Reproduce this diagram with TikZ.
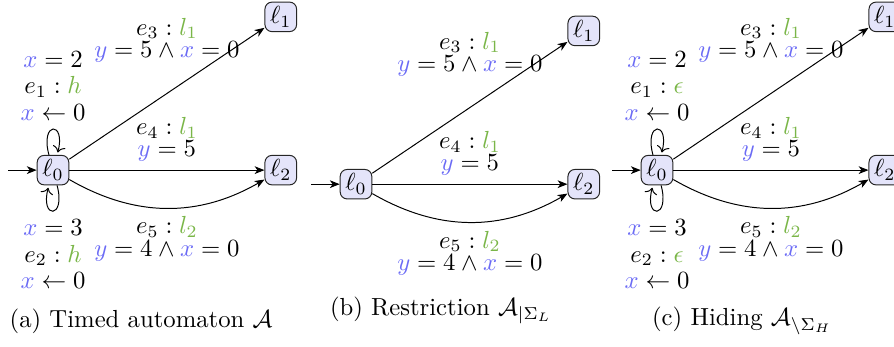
\documentclass[tikz,border=0pt]{standalone}
\usepackage{amsmath,amssymb}
\usepackage{xcolor}
\usetikzlibrary{positioning,arrows.meta}
\definecolor{varblue}{HTML}{6B6BF5}
\definecolor{actgreen}{HTML}{7AB648}
\definecolor{locfill}{HTML}{E4E4FA}
\newcommand{\cv}[1]{\textcolor{varblue}{#1}}
\newcommand{\ca}[1]{\textcolor{actgreen}{#1}}

\begin{document}
\begin{tikzpicture}[
    on grid,
    loc/.style={draw=black!85, fill=locfill, rounded corners=1mm, minimum width=0.45cm, minimum height=0.42cm, inner sep=1pt},
    arr/.style={-{Stealth[length=1.4mm, width=1.1mm, inset=0.4mm]}, draw=black},
    lbl/.style={align=center},
    subcap/.style={anchor=base}
]
    \useasboundingbox (0,0) rectangle (12.717,-4.922);

    % (a) timed automaton
    \node[loc] (a0) at (0.754,-2.42) {$\ell_0$};
    \node[loc, right=3.24cm of a0] (a2) {$\ell_2$};
    \node[loc, above=2.18cm of a2] (a1) {$\ell_1$};
    \coordinate[left=0.64cm of a0] (ain);

    \draw[arr] (ain) -- (a0);
    \draw[arr] (a0) -- (a1) node[midway, above=3.2mm, lbl] {$e_3 : \ca{l_1}$\\[-3pt]$\cv{y} = 5 \land \cv{x} = 0$};
    \draw[arr] (a0) -- (a2) node[midway, above, lbl] {$e_4 : \ca{l_1}$\\[-3pt]$\cv{y} = 5$};
    \draw[arr] (a0) to[bend right=30] node[midway, below, lbl] {$e_5 : \ca{l_2}$\\[-3pt]$\cv{y} = 4 \land \cv{x} = 0$} (a2);
    \path (a0) edge[arr, loop above] node[above, lbl] {$\cv{x} = 2$\\[-1.2pt]$e_1 : \ca{h}$\\[-1.2pt]$\cv{x} \leftarrow 0$} ();
    \path (a0) edge[arr, loop below] node[below, lbl] {$\cv{x} = 3$\\[-1.2pt]$e_2 : \ca{h}$\\[-1.2pt]$\cv{x} \leftarrow 0$} ();
    \node[subcap] (capa) at (2.006,-4.652) {(a) Timed automaton $\mathcal{A}$};

    % (b) restriction
    \node[loc] (b0) at (5.064,-2.62) {$\ell_0$};
    \node[loc, right=3.24cm of b0] (b2) {$\ell_2$};
    \node[loc, above=2.18cm of b2] (b1) {$\ell_1$};
    \coordinate[left=0.64cm of b0] (bin);

    \draw[arr] (bin) -- (b0);
    \draw[arr] (b0) -- (b1) node[midway, above=3.2mm, lbl] {$e_3 : \ca{l_1}$\\[-3pt]$\cv{y} = 5 \land \cv{x} = 0$};
    \draw[arr] (b0) -- (b2) node[midway, above, lbl] {$e_4 : \ca{l_1}$\\[-3pt]$\cv{y} = 5$};
    \draw[arr] (b0) to[bend right=30] node[midway, below, lbl] {$e_5 : \ca{l_2}$\\[-3pt]$\cv{y} = 4 \land \cv{x} = 0$} (b2);
    \node[subcap] (capb) at (6.273,-4.481) {(b) Restriction $\mathcal{A}_{|\Sigma_L}$};

    % (c) hiding
    \node[loc] (c0) at (9.346,-2.42) {$\ell_0$};
    \node[loc, right=3.24cm of c0] (c2) {$\ell_2$};
    \node[loc, above=2.18cm of c2] (c1) {$\ell_1$};
    \coordinate[left=0.64cm of c0] (cin);

    \draw[arr] (cin) -- (c0);
    \draw[arr] (c0) -- (c1) node[midway, above=3.2mm, lbl] {$e_3 : \ca{l_1}$\\[-3pt]$\cv{y} = 5 \land \cv{x} = 0$};
    \draw[arr] (c0) -- (c2) node[midway, above, lbl] {$e_4 : \ca{l_1}$\\[-3pt]$\cv{y} = 5$};
    \draw[arr] (c0) to[bend right=30] node[midway, below, lbl] {$e_5 : \ca{l_2}$\\[-3pt]$\cv{y} = 4 \land \cv{x} = 0$} (c2);
    \path (c0) edge[arr, loop above] node[above, lbl] {$\cv{x} = 2$\\[-1.2pt]$e_1 : \ca{\epsilon}$\\[-1.2pt]$\cv{x} \leftarrow 0$} ();
    \path (c0) edge[arr, loop below] node[below, lbl] {$\cv{x} = 3$\\[-1.2pt]$e_2 : \ca{\epsilon}$\\[-1.2pt]$\cv{x} \leftarrow 0$} ();
    \node[subcap] (capc) at (10.555,-4.637) {(c) Hiding $\mathcal{A}_{\setminus\Sigma_H}$};
\end{tikzpicture}
\end{document}
